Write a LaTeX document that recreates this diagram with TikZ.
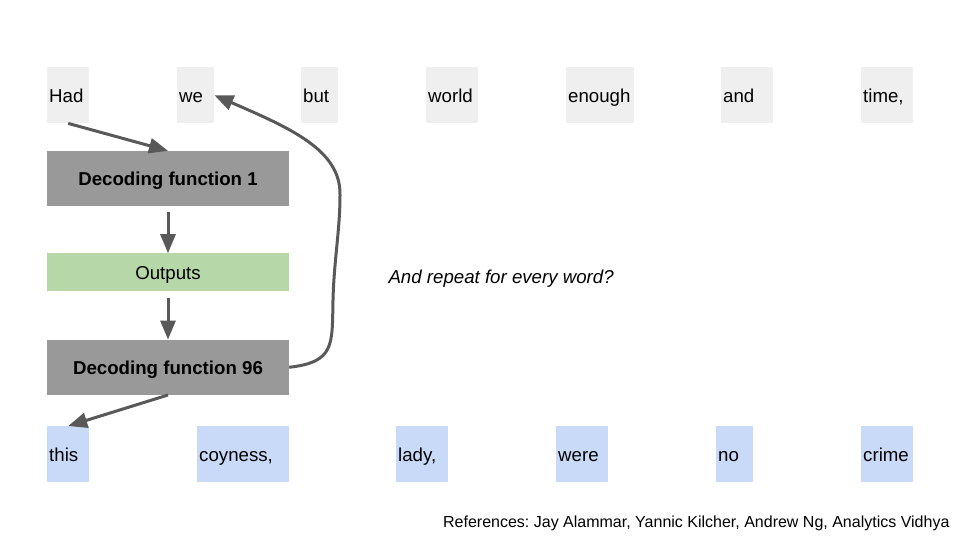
\documentclass[tikz,border=0pt]{standalone}
\usepackage{fontspec}
\setmainfont{Liberation Sans}
\usepackage{xcolor}
\usepackage{tikz}
\usetikzlibrary{positioning,arrows.meta}

\definecolor{wordgray}{HTML}{EFEFEF}
\definecolor{wordblue}{HTML}{C9DAF8}
\definecolor{outgreen}{HTML}{B6D7A8}
\definecolor{decgray}{HTML}{999999}
\definecolor{arrgray}{HTML}{595959}

\begin{document}
\frenchspacing
\begin{tikzpicture}[x=1pt, y=-1pt, node distance=47pt,
        font=\fontsize{18.67}{22}\selectfont,
        every node/.style={text height=18pt, text depth=4pt},
        wordtop/.style={fill=wordgray, anchor=north west, minimum height=56pt, align=left, inner xsep=2pt, inner ysep=0pt},
        wordbot/.style={wordtop, fill=wordblue},
        decbox/.style={fill=decgray, minimum width=242pt, minimum height=55pt, inner ysep=0pt, font=\fontsize{18.67}{22}\selectfont\bfseries},
        outbox/.style={fill=outgreen, minimum width=242pt, minimum height=38pt, inner ysep=0pt},
        arr/.style={draw=arrgray, line width=3pt, -{Triangle[length=19pt, width=15pt]}}]
        \useasboundingbox (0,0) rectangle (960,540);

        % top row
        \node[wordtop, text width=38pt] (had) at (47,67) {Had};
        \node[wordtop, text width=33pt] (we) at (177,67) {we};
        \node[wordtop, text width=33pt] (but) at (301,67) {but};
        \node[wordtop, text width=48pt] (world) at (426,67) {world};
        \node[wordtop, text width=64pt] (enough) at (566,67) {enough};
        \node[wordtop, text width=48pt] (and) at (721,67) {and};
        \node[wordtop, text width=48pt] (time) at (861,67) {time,};

        % decoding steps
        \node[decbox] (df1) at (168,178.5) {Decoding function 1};
        \node[outbox] (out) [below = 47pt of df1] {Outputs};
        \node[decbox] (df96) [below = 48pt of out] {Decoding function 96};

        % bottom row
        \node[wordbot, text width=38pt] (this) at (47,426) {this};
        \node[wordbot, text width=88pt] (coyness) at (197,426) {coyness,};
        \node[wordbot, text width=48pt] (lady) at (396,426) {lady,};
        \node[wordbot, text width=48pt] (were) at (556,426) {were};
        \node[wordbot, text width=33pt] (no) at (716,426) {no};
        \node[wordbot, text width=48pt] (crime) at (861,426) {crime};

        \node[anchor=west, font=\fontsize{18.67}{22}\selectfont\itshape] (repeat) at (385,276) {And repeat for every word?};
        \node[anchor=east, text height=15pt, text depth=3pt, font=\fontsize{16}{19}\selectfont] (refs) at (953,521) {References: Jay Alammar, Yannic Kilcher, Andrew Ng, Analytics Vidhya};

        \draw[arr] (had.south) -- (df1.north);
        \draw[arr, shorten <=6pt] (df1.south) -- (out.north);
        \draw[arr, shorten <=6pt] (out.south) -- (df96.north);
        \draw[arr] (df96.south) -- (this.north);
        \draw[arr] (df96.east) .. controls (335,362) and (332,345) .. (333,300)
            .. controls (334,260) and (340,230) .. (340,195)
            .. controls (341,150) and (290,128) .. (we.east);
\end{tikzpicture}
\end{document}
